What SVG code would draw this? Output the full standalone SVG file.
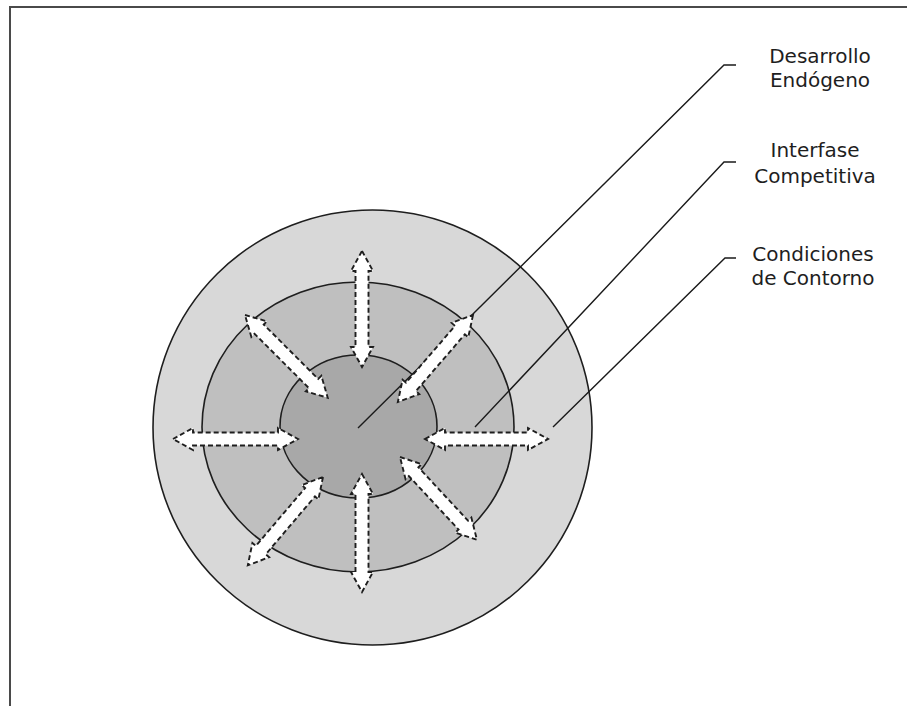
<svg xmlns="http://www.w3.org/2000/svg" width="907" height="706" viewBox="0 0 907 706">
  <style>
    .ring { stroke: #1e1e1e; stroke-width: 1.6; }
    .leader { fill: none; stroke: #1a1a1a; stroke-width: 1.4; }
    .arrow { fill: #ffffff; stroke: #1e1e1e; stroke-width: 1.9; stroke-dasharray: 5 3; stroke-linejoin: miter; }
    .label { font-family: "DejaVu Sans", Verdana, sans-serif; font-size: 20px; fill: #1e1e1e; text-anchor: middle; }
  </style>
  <rect x="0" y="0" width="907" height="706" fill="#ffffff"/>
  <path d="M10,706 L10,7 L907,7" fill="none" stroke="#4a4a4a" stroke-width="2"/>

  <g id="outer-ring">
    <ellipse class="ring" cx="372.5" cy="427.5" rx="219.5" ry="217.5" fill="#d8d8d8"/>
  </g>
  <g id="middle-ring">
    <ellipse class="ring" cx="358" cy="427" rx="156" ry="145" fill="#bfbfbf"/>
  </g>
  <g id="inner-ring">
    <ellipse class="ring" cx="358.5" cy="426.5" rx="78.5" ry="71.5" fill="#a8a8a8"/>
  </g>

  <g id="connectors">
    <polyline class="leader" points="358,428 724,65 736,65"/>
    <polyline class="leader" points="475,427 724,162 736,162"/>
    <polyline class="leader" points="553,427 725,258 736,258"/>
  </g>

  <g id="arrows">
    <path class="arrow" transform="translate(362,251) rotate(90)" d="M0,0 L20,-11 L20,-6.5 L96,-6.5 L96,-11 L116,0 L96,11 L96,6.5 L20,6.5 L20,11 Z"/>
    <path class="arrow" transform="translate(362,474) rotate(90)" d="M0,0 L20,-11 L20,-6.5 L98,-6.5 L98,-11 L118,0 L98,11 L98,6.5 L20,6.5 L20,11 Z"/>
    <path class="arrow" transform="translate(173,439)" d="M0,0 L20,-11 L20,-6.5 L105,-6.5 L105,-11 L125,0 L105,11 L105,6.5 L20,6.5 L20,11 Z"/>
    <path class="arrow" transform="translate(425,439)" d="M0,0 L20,-11 L20,-6.5 L103,-6.5 L103,-11 L123,0 L103,11 L103,6.5 L20,6.5 L20,11 Z"/>
    <path class="arrow" transform="translate(245,315) rotate(45)" d="M0,0 L20,-11 L20,-6.5 L97,-6.5 L97,-11 L117,0 L97,11 L97,6.5 L20,6.5 L20,11 Z"/>
    <path class="arrow" transform="translate(473,315) rotate(130.8)" d="M0,0 L20,-11 L20,-6.5 L95,-6.5 L95,-11 L115,0 L95,11 L95,6.5 L20,6.5 L20,11 Z"/>
    <path class="arrow" transform="translate(323,477) rotate(130.4)" d="M0,0 L20,-11 L20,-6.5 L96,-6.5 L96,-11 L116,0 L96,11 L96,6.5 L20,6.5 L20,11 Z"/>
    <path class="arrow" transform="translate(400,457) rotate(47.1)" d="M0,0 L20,-11 L20,-6.5 L93,-6.5 L93,-11 L113,0 L93,11 L93,6.5 L20,6.5 L20,11 Z"/>
  </g>

  <g id="label-desarrollo">
    <text class="label" x="820" y="63">Desarrollo</text>
    <text class="label" x="820" y="87">Endógeno</text>
  </g>
  <g id="label-interfase">
    <text class="label" x="815" y="157">Interfase</text>
    <text class="label" x="815" y="183">Competitiva</text>
  </g>
  <g id="label-condiciones">
    <text class="label" x="813" y="261">Condiciones</text>
    <text class="label" x="813" y="285">de Contorno</text>
  </g>
</svg>
